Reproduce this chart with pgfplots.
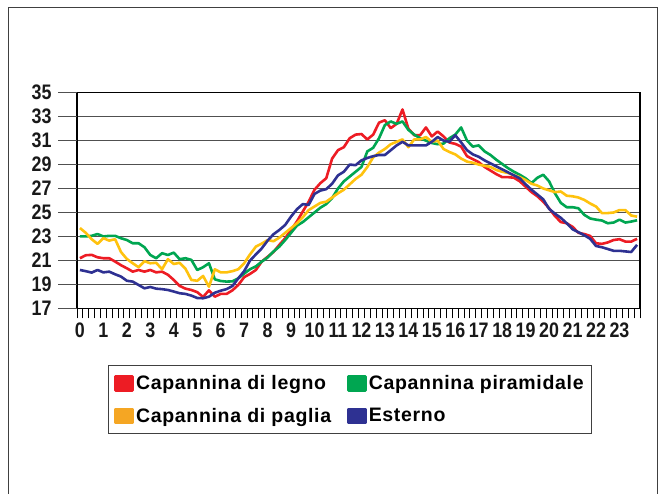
\documentclass[border=0pt]{standalone}
\usepackage{pgfplots}
\pgfplotsset{compat=1.18}
\usepackage{pgfplotstable}
\usepackage{fontspec}
\setmainfont{Liberation Sans}
\newfontfamily\legendfont{Liberation Sans}[LetterSpace=3.5]
\newfontfamily\tickfont{Liberation Sans}[FakeStretch=0.85]
\definecolor{cred}{RGB}{237,28,36}
\definecolor{cgreen}{RGB}{0,166,81}
\definecolor{cyellow}{RGB}{255,194,14}
\definecolor{corange}{RGB}{245,166,35}
\definecolor{cblue}{RGB}{46,49,146}
\definecolor{gridc}{RGB}{80,80,80}

\pgfplotstableread{
t legno piram paglia esterno
0 21.18 23.0 23.7 20.2
0.25 21.43 23.0 23.3 20.1
0.5 21.46 23.05 22.77 19.98
0.75 21.26 23.2 22.38 20.2
1 21.18 23.0 22.85 20.0
1.25 21.18 23.05 22.65 20.06
1.5 20.9 23.05 22.77 19.84
1.75 20.6 22.85 21.7 19.65
2 20.34 22.7 21.12 19.3
2.25 20.06 22.43 20.76 19.23
2.5 20.2 22.43 20.43 18.95
2.75 20.06 22.1 20.93 18.67
3 20.2 21.45 20.76 18.78
3.25 20.0 21.18 20.8 18.64
3.5 20.06 21.6 20.26 18.6
3.75 19.8 21.45 21.1 18.53
4 19.37 21.65 20.7 18.4
4.25 18.87 21.1 20.8 18.26
4.5 18.64 21.18 20.3 18.2
4.75 18.53 21.04 19.37 18.06
5 18.35 20.2 19.3 17.86
5.25 17.95 20.43 19.7 17.84
5.5 18.5 20.76 18.8 17.97
5.75 17.97 19.42 20.26 18.3
6 18.2 19.28 20.0 18.47
6.25 18.2 19.23 20.0 18.6
6.5 18.5 19.25 20.1 18.86
6.75 18.95 19.5 20.26 19.5
7 19.6 19.9 20.76 20.1
7.25 19.87 20.26 21.5 20.98
7.5 20.2 20.5 22.15 21.5
7.75 20.9 20.9 22.4 22.0
8 21.3 21.24 22.7 22.65
8.25 21.7 21.74 22.6 23.18
8.5 22.3 22.15 22.9 23.54
8.75 22.85 22.7 23.3 23.96
9 23.55 23.3 23.7 24.66
9.25 24.25 23.9 24.1 25.27
9.5 25.08 24.2 24.6 25.7
9.75 25.9 24.6 25.2 25.63
10 26.9 25.0 25.5 26.55
10.25 27.45 25.4 25.8 26.83
10.5 27.86 25.7 25.9 26.95
10.75 29.5 26.2 26.25 27.4
11 30.2 27.0 26.6 28.1
11.25 30.45 27.6 26.9 28.4
11.5 31.2 28.0 27.35 29.0
11.75 31.5 28.4 27.8 28.95
12 31.55 28.8 28.15 29.35
12.25 31.1 30.1 28.8 29.55
12.5 31.5 30.4 29.6 29.7
12.75 32.5 31.2 30.0 29.8
13 32.7 32.3 30.3 29.8
13.25 32.04 32.6 30.7 30.2
13.5 32.4 32.4 30.9 30.6
13.75 33.6 32.6 31.1 30.9
14 32.0 31.9 30.45 30.6
14.25 31.45 31.5 31.1 30.6
14.5 31.45 31.2 31.1 30.6
14.75 32.1 31.0 31.3 30.6
15 31.35 30.8 30.9 30.9
15.25 31.76 30.7 31.0 31.3
15.5 31.35 30.75 30.3 31.0
15.75 30.84 31.2 30.05 30.9
16 30.73 31.5 29.85 31.45
16.25 30.5 32.1 29.5 30.85
16.5 29.7 31.0 29.25 30.2
16.75 29.45 30.5 29.15 29.85
17 29.2 30.6 29.0 29.65
17.25 28.8 30.1 28.9 29.35
17.5 28.5 29.8 28.8 29.1
17.75 28.2 29.4 28.55 28.85
18 27.95 29.05 28.4 28.6
18.25 27.95 28.7 28.3 28.35
18.5 27.9 28.4 28.1 28.1
18.75 27.6 28.15 27.95 27.85
19 27.15 27.85 27.7 27.35
19.25 26.7 27.45 27.4 26.9
19.5 26.35 27.9 27.25 26.5
19.75 25.9 28.15 27.0 26.1
20 25.35 27.6 26.85 25.3
20.25 24.7 26.6 26.7 24.9
20.5 24.2 25.8 26.75 24.55
20.75 24.1 25.44 26.4 24.1
21 23.8 25.44 26.35 23.6
21.25 23.3 25.35 26.25 23.35
21.5 23.2 24.8 26.05 23.1
21.75 23.04 24.5 25.75 22.8
22 22.43 24.4 25.5 22.2
22.25 22.38 24.33 24.95 22.1
22.5 22.5 24.1 24.95 21.95
22.75 22.7 24.16 25.0 21.8
23 22.77 24.4 25.2 21.8
23.25 22.57 24.16 25.2 21.75
23.5 22.57 24.24 24.75 21.7
23.75 22.8 24.35 24.65 22.3
}\datatable

\begin{document}
\begin{tikzpicture}[x=1bp,y=1bp]
\path[use as bounding box] (0,0) rectangle (666,-494);
\draw[line width=1bp, black!75] (8,-494) -- (8,-8) -- (657,-8) -- (657,-494);
\begin{axis}[
  at={(77bp,-308.3bp)}, anchor=south west,
  scale only axis, width=563bp, height=215.6bp,
  xmin=-0.125, xmax=23.875, ymin=17, ymax=35,
  clip=false,
  axis line style={draw=black, line width=1.2bp},
  ytick={17,19,...,35},
  ytick style={draw=none},
  ymajorgrids, grid style={draw=gridc, line width=1.3bp},
  xtick={-0.125,0.125,...,23.9},
  xticklabels={},
  xtick pos=bottom,
  ytick pos=left,
  tick align=outside,
  major tick length=10bp,
  xtick style={draw=black, line width=0.9bp},
  extra x ticks={0,1,...,23},
  extra x tick labels={0,1,2,3,4,5,6,7,8,9,10,11,12,13,14,15,16,17,18,19,20,21,22,23},
  extra x tick style={major tick length=0pt, xticklabel style={yshift=-11bp}},
  /pgf/number format/assume math mode=true,
  tick label style={font=\tickfont\bfseries\fontsize{21bp}{22bp}\selectfont, text=black!90},
  yticklabel style={xshift=-12bp},
  legend columns=2,
  legend cell align=left,
  legend image code/.code={\fill[#1] (0bp,-7bp) rectangle (17bp,7bp);},
  legend style={at={(0.055,-0.263)}, anchor=north west, draw=black!75, line width=1bp,
    font=\legendfont\bfseries\fontsize{19.5bp}{21bp}\selectfont,
    inner xsep=6bp, inner ysep=8bp, row sep=13bp,
    /tikz/every even column/.append style={column sep=14bp}},
  every axis plot/.append style={line width=2.6bp, no markers, line join=round},
]
\addplot[cred] table[x=t, y=legno] {\datatable};
\addlegendentry{Capannina di legno}
\addplot[cgreen] table[x=t, y=piram] {\datatable};
\addlegendentry{Capannina piramidale}
\addplot[cyellow, legend image code/.code={\fill[corange] (0bp,-7bp) rectangle (17bp,7bp);}] table[x=t, y=paglia] {\datatable};
\addlegendentry{Capannina di paglia}
\addplot[cblue] table[x=t, y=esterno] {\datatable};
\addlegendentry{Esterno}
\pgfplotsinvokeforeach{17,19,...,35}{\draw[gridc, line width=1.3bp] (axis cs:-0.125,#1) -- ([xshift=-19bp]axis cs:-0.125,#1);}
\end{axis}
\end{tikzpicture}
\end{document}
